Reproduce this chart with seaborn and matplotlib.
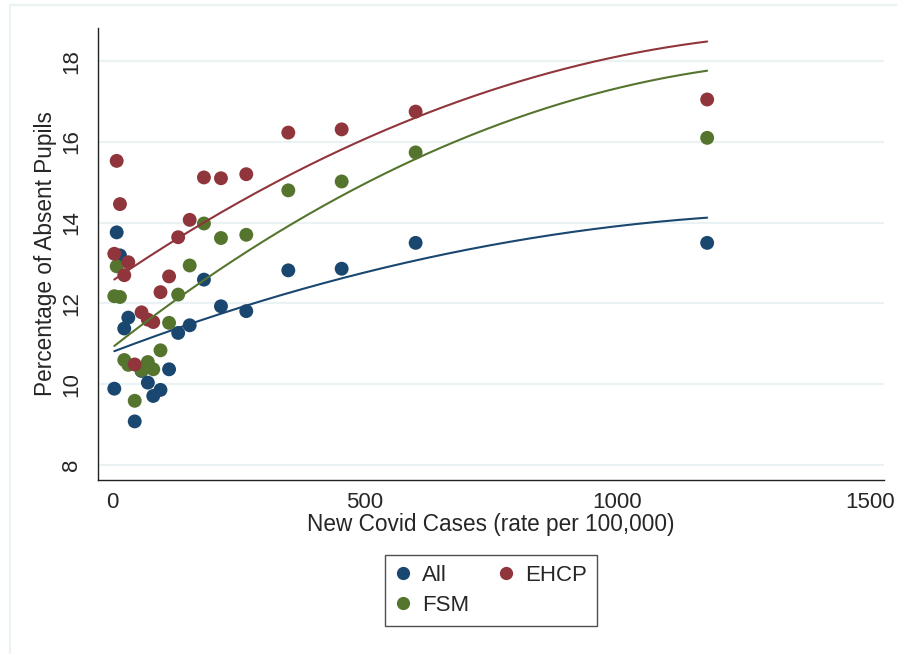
import numpy as np
import pandas as pd
import seaborn as sns
import matplotlib.pyplot as plt
from matplotlib.lines import Line2D

# new covid cases (rate per 100,000) and % absent pupils per group
cases = [4.6, 9.3, 15.8, 24.3, 32.3, 45, 58.5, 71, 81.7, 96,
         113, 131, 153.8, 182, 215.7, 265.8, 349, 454.6, 601, 1178]
absent_all = [9.89, 13.76, 13.19, 11.38, 11.65, 9.08, 10.33, 10.04, 9.71, 9.86,
              10.37, 11.27, 11.46, 12.59, 11.93, 11.81, 12.82, 12.86, 13.50, 13.50]
absent_fsm = [12.18, 12.92, 12.16, 10.60, 10.48, 9.59, 10.35, 10.55, 10.37, 10.84,
              11.52, 12.22, 12.94, 13.98, 13.62, 13.70, 14.80, 15.02, 15.74, 16.10]
absent_ehcp = [13.23, 15.53, 14.46, 12.70, 13.02, 10.49, 11.78, 11.60, 11.54, 12.28,
               12.67, 13.64, 14.07, 15.12, 15.10, 15.20, 16.23, 16.31, 16.75, 17.05]

# fitted (quadratic) trend values
fit_x = [6, 134.6, 349, 530, 629, 860, 1178]
fit_all = [10.82, 11.34, 12.42, 12.83, 13.09, 13.64, 14.15]
fit_fsm = [10.95, 12.21, 13.87, 15.14, 15.72, 16.90, 17.74]
fit_ehcp = [12.64, 13.65, 15.06, 16.25, 16.75, 17.76, 18.45]

groups = ['All', 'FSM', 'EHCP']
colors = {'All': '#1a476f', 'FSM': '#55752f', 'EHCP': '#90353b'}
fits = {'All': fit_all, 'FSM': fit_fsm, 'EHCP': fit_ehcp}


def main():
    sns.set_style('white')
    plt.rcParams['font.family'] = ['Liberation Sans', 'DejaVu Sans']

    df = pd.DataFrame({
        'cases': cases * 3,
        'absent': absent_all + absent_fsm + absent_ehcp,
        'group': ['All'] * len(cases) + ['FSM'] * len(cases) + ['EHCP'] * len(cases),
    })

    fig = plt.figure(figsize=(8.97, 6.54), dpi=100)
    ax = fig.add_axes([0.1089, 0.2661, 0.8766, 0.6911])

    # faint outer frame like the graph region border
    fig.add_artist(Line2D([0.011, 0.011], [0, 0.992], color='#eaf2f3', lw=1.6))
    fig.add_artist(Line2D([0.011, 1.0], [0.992, 0.992], color='#eaf2f3', lw=1.6))

    sns.scatterplot(data=df, x='cases', y='absent', hue='group', hue_order=groups,
                    palette=colors, s=100, linewidth=0, alpha=1, ax=ax, legend=False,
                    zorder=3)

    # quadratic trend lines
    xs = np.linspace(min(cases), max(cases), 200)
    for g in groups:
        coef = np.polyfit(fit_x, fits[g], 2)
        sns.lineplot(x=xs, y=np.polyval(coef, xs), color=colors[g], lw=1.5,
                     ax=ax, zorder=4)

    ax.set_xlim(-28.3, 1528)
    ax.set_ylim(7.63, 18.82)
    ax.set_xticks([0, 500, 1000, 1500])
    ax.set_yticks([8, 10, 12, 14, 16, 18])
    ax.yaxis.grid(True, color='#eaf2f3', lw=1.6)
    ax.xaxis.grid(False)
    ax.set_axisbelow(True)
    for side in ['top', 'right']:
        ax.spines[side].set_visible(False)
    for side in ['left', 'bottom']:
        ax.spines[side].set_color('#222222')
        ax.spines[side].set_linewidth(1.0)
    ax.tick_params(axis='both', which='major', direction='out', length=6.5,
                   width=1.0, color='#222222', labelsize=16, pad=2.5)
    ax.tick_params(axis='y', pad=4.5)
    plt.setp(ax.get_yticklabels(), rotation=90, va='center')

    ax.set_xlabel('New Covid Cases (rate per 100,000)', fontsize=16.3, labelpad=0)
    ax.set_ylabel('Percentage of Absent Pupils', fontsize=16.3, labelpad=3)

    handles = [Line2D([], [], marker='o', ls='', color=colors[g], markersize=8.5)
               for g in groups]
    leg = fig.legend(handles, groups, loc='center', ncol=2,
                     bbox_to_anchor=(491 / 897, 63.5 / 654), fontsize=16,
                     frameon=True, fancybox=False, edgecolor='#222222',
                     handletextpad=0.5, columnspacing=1.3, handlelength=0.7,
                     borderpad=0.45, labelspacing=0.4, borderaxespad=0)
    leg.get_frame().set_linewidth(1.0)

    plt.savefig('out.png', dpi=100)


if __name__ == '__main__':
    main()
